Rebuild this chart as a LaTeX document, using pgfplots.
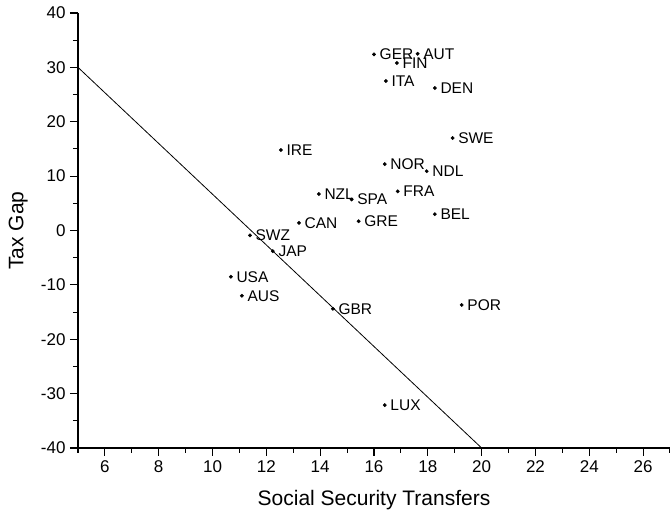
\documentclass[border=0pt]{standalone}
\usepackage{pgfplots}
\pgfplotsset{compat=1.18}
\usepackage{fontspec}
\setmainfont{Liberation Sans}
\begin{document}
\begin{tikzpicture}
\begin{axis}[
  scale only axis,
  width=592pt, height=435pt,
  xmin=5, xmax=27, ymin=-40, ymax=40,
  axis lines*=left,
  axis line style={line width=1.1pt},
  tick align=outside,
  xtick={6,8,...,26},
  minor xtick={5,7,...,27},
  ytick={-40,-30,...,40},
  minor ytick={-35,-25,...,35},
  major tick length=8pt, minor tick length=5pt,
  tick style={line width=1.1pt, black},
  /pgf/number format/assume math mode=true,
  ticklabel style={font=\fontsize{17}{19}\selectfont},
  xticklabel style={yshift=-1pt},
  yticklabel style={xshift=-1pt},
  xlabel={Social Security Transfers},
  ylabel={Tax Gap},
  label style={font=\fontsize{21}{24}\selectfont},
  xlabel style={at={(axis description cs:0.5,-0.12)}, anchor=center},
  ylabel style={at={(axis description cs:-0.101,0.5)}, anchor=center},
  clip=false,
]
\coordinate (bl) at (rel axis cs:0,0);
\coordinate (tr) at (rel axis cs:1,1);
\addplot[black, line width=0.8pt] coordinates {(5,30) (20,-40)};
\addplot[only marks, mark=*, mark size=1.7pt, black,
  nodes near coords, point meta=explicit symbolic,
  nodes near coords style={anchor=west, xshift=4pt, font=\fontsize{15.5}{17}\selectfont, inner sep=1.5pt}]
  table[meta=label] {
x y label
16.0 32.4 GER
17.62 32.5 AUT
16.85 30.8 FIN
16.44 27.5 ITA
18.26 26.2 DEN
18.92 17.0 SWE
12.54 14.8 IRE
16.40 12.2 NOR
17.96 10.9 NDL
16.88 7.2 FRA
13.95 6.7 NZL
15.17 5.7 SPA
18.26 3.0 BEL
13.21 1.4 CAN
15.43 1.7 GRE
11.39 -0.9 SWZ
12.24 -3.8 JAP
10.68 -8.5 USA
11.09 -12.0 AUS
14.47 -14.4 GBR
19.26 -13.7 POR
16.40 -32.1 LUX
};
\end{axis}
\pgfresetboundingbox
\useasboundingbox ([xshift=-78pt,yshift=-70pt]bl) rectangle ([yshift=13pt]tr);
\end{tikzpicture}
\end{document}
